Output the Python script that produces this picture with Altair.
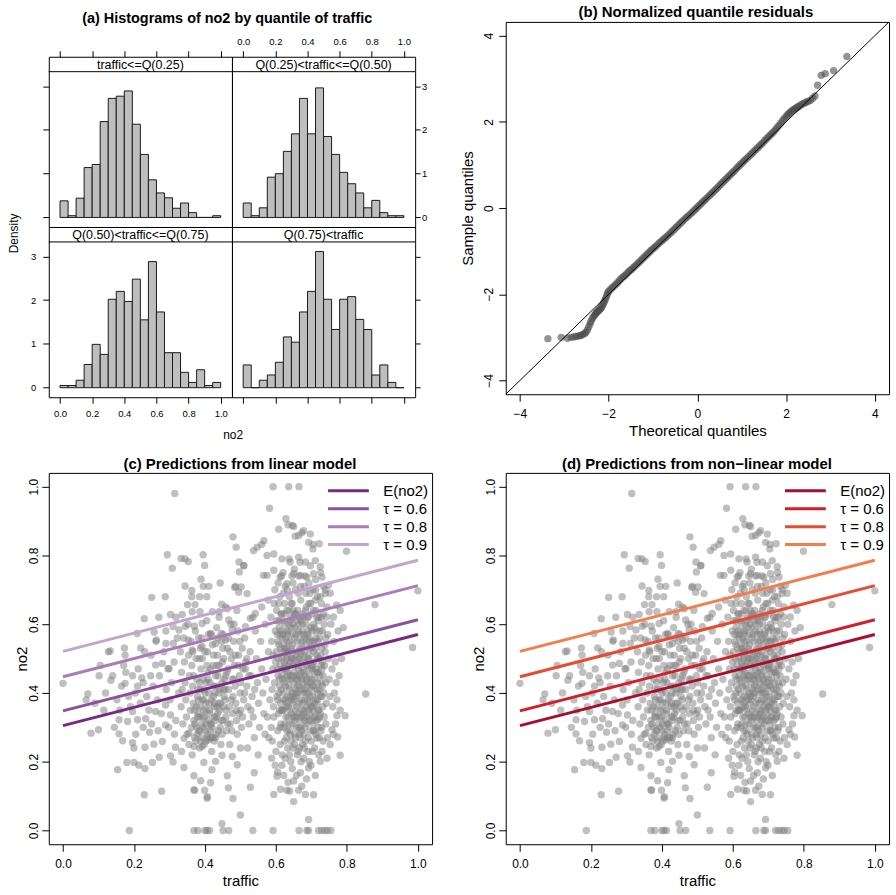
import altair as alt
import pandas as pd

FONT = "Liberation Sans"

# ------------------------------------------------------------------ data
# (a) histograms of no2 by quantile of traffic (densities per 0.05 bin)
bin_lo = [0.00, 0.05, 0.10, 0.15, 0.20, 0.25, 0.30, 0.35, 0.40, 0.45,
          0.50, 0.55, 0.60, 0.65, 0.70, 0.75, 0.80, 0.85, 0.90, 0.95]
bin_hi = [0.05, 0.10, 0.15, 0.20, 0.25, 0.30, 0.35, 0.40, 0.45, 0.50,
          0.55, 0.60, 0.65, 0.70, 0.75, 0.80, 0.85, 0.90, 0.95, 1.00]
strip_labels = ["traffic<=Q(0.25)", "Q(0.25)<traffic<=Q(0.50)",
                "Q(0.50)<traffic<=Q(0.75)", "Q(0.75)<traffic"]
density_q1 = [0.38, 0.04, 0.44, 1.14, 1.21, 2.19, 2.72, 2.77, 2.89, 2.13,
              1.44, 0.86, 0.56, 0.45, 0.21, 0.33, 0.11, 0.00, 0.00, 0.04]
density_q2 = [0.33, 0.04, 0.22, 0.92, 1.00, 1.51, 1.91, 2.72, 1.91, 2.96,
              1.85, 1.44, 1.03, 0.77, 0.56, 0.22, 0.39, 0.11, 0.04, 0.04]
density_q3 = [0.05, 0.05, 0.17, 0.53, 0.99, 0.76, 2.02, 2.20, 1.97, 2.48,
              1.55, 2.88, 1.73, 0.80, 0.80, 0.35, 0.12, 0.41, 0.05, 0.12]
density_q4 = [0.52, 0.00, 0.17, 0.29, 0.58, 1.16, 1.04, 1.73, 2.20, 3.11,
              2.02, 1.33, 2.02, 2.08, 1.56, 1.33, 0.29, 0.52, 0.12, 0.00]
hist_ticks_x = [0.0, 0.2, 0.4, 0.6, 0.8, 1.0]
hist_ticks_y = [0, 1, 2, 3]

# (b) normalized quantile residuals: (theoretical, sample)
qq_lower_tail = [(-3.37, -3.03), (-3.07, -3.00), (-2.93, -3.02), (-2.85, -3.00), (-2.79, -2.99),
                 (-2.74, -2.98), (-2.69, -2.97), (-2.65, -2.96), (-2.61, -2.95), (-2.58, -2.93),
                 (-2.54, -2.91), (-2.51, -2.88), (-2.48, -2.83), (-2.45, -2.76), (-2.42, -2.69),
                 (-2.40, -2.63), (-2.37, -2.57), (-2.35, -2.53), (-2.32, -2.49), (-2.30, -2.46),
                 (-2.28, -2.43), (-2.26, -2.41), (-2.24, -2.39), (-2.22, -2.37), (-2.20, -2.35),
                 (-2.18, -2.33), (-2.16, -2.30), (-2.14, -2.26), (-2.12, -2.22), (-2.10, -2.18),
                 (-2.08, -2.13), (-2.06, -2.08), (-2.04, -2.02), (-2.02, -1.97), (-2.00, -1.93)]
qq_body = [(-1.96, -1.89), (-1.92, -1.85), (-1.88, -1.81), (-1.84, -1.77), (-1.80, -1.73),
           (-1.76, -1.68), (-1.72, -1.64), (-1.68, -1.60), (-1.64, -1.57), (-1.60, -1.53),
           (-1.56, -1.49), (-1.52, -1.45), (-1.48, -1.42), (-1.44, -1.38), (-1.40, -1.34),
           (-1.36, -1.30), (-1.32, -1.26), (-1.28, -1.22), (-1.24, -1.18), (-1.20, -1.14),
           (-1.16, -1.10), (-1.12, -1.06), (-1.08, -1.02), (-1.04, -0.98), (-1.00, -0.94),
           (-0.96, -0.91), (-0.92, -0.87), (-0.88, -0.83), (-0.84, -0.79), (-0.80, -0.76),
           (-0.76, -0.72), (-0.72, -0.69), (-0.68, -0.65), (-0.64, -0.61), (-0.60, -0.57),
           (-0.56, -0.53), (-0.52, -0.49), (-0.48, -0.45), (-0.44, -0.41), (-0.40, -0.37),
           (-0.36, -0.33), (-0.32, -0.29), (-0.28, -0.25), (-0.24, -0.21), (-0.20, -0.18),
           (-0.16, -0.14), (-0.12, -0.10), (-0.08, -0.06), (-0.04, -0.02), (0.00, 0.02),
           (0.04, 0.06), (0.08, 0.10), (0.12, 0.14), (0.16, 0.18), (0.20, 0.22),
           (0.24, 0.26), (0.28, 0.30), (0.32, 0.34), (0.36, 0.38), (0.40, 0.42),
           (0.44, 0.46), (0.48, 0.50), (0.52, 0.55), (0.56, 0.59), (0.60, 0.63),
           (0.64, 0.67), (0.68, 0.71), (0.72, 0.75), (0.76, 0.79), (0.80, 0.83),
           (0.84, 0.87), (0.88, 0.92), (0.92, 0.96), (0.96, 1.00), (1.00, 1.04),
           (1.04, 1.08), (1.08, 1.12), (1.12, 1.16), (1.16, 1.20), (1.20, 1.24),
           (1.24, 1.28), (1.28, 1.32), (1.32, 1.36), (1.36, 1.40), (1.40, 1.44),
           (1.44, 1.48), (1.48, 1.52), (1.52, 1.57), (1.56, 1.61), (1.60, 1.65),
           (1.64, 1.69), (1.68, 1.73), (1.72, 1.77), (1.76, 1.82), (1.80, 1.87),
           (1.84, 1.92), (1.88, 1.97), (1.92, 2.03), (1.96, 2.08)]
qq_upper_tail = [(2.00, 2.12), (2.03, 2.16), (2.06, 2.19), (2.09, 2.22), (2.12, 2.25),
                 (2.15, 2.27), (2.18, 2.29), (2.21, 2.31), (2.24, 2.33), (2.27, 2.35),
                 (2.30, 2.37), (2.34, 2.40), (2.38, 2.42), (2.42, 2.44), (2.46, 2.46),
                 (2.50, 2.48), (2.55, 2.50), (2.60, 2.55), (2.65, 2.60), (2.71, 2.85),
                 (2.79, 3.08), (2.88, 3.12), (3.07, 3.19), (3.37, 3.52)]
qq_ref_line = [-4.32, 4.32]

# (c), (d) scatter of no2 against traffic: (traffic, no2)
pts_top = [(0.592, 1.0), (0.636, 1.0), (0.665, 1.0), (0.315, 0.98), (0.582, 0.937), (0.628, 0.907),
           (0.608, 0.876), (0.634, 0.889), (0.646, 0.887), (0.654, 0.856), (0.673, 0.866),
           (0.697, 0.862), (0.479, 0.854), (0.488, 0.824), (0.566, 0.843), (0.56, 0.832),
           (0.547, 0.824), (0.537, 0.814), (0.705, 0.832), (0.722, 0.834), (0.692, 0.838),
           (0.704, 0.819), (0.799, 0.812), (0.294, 0.802), (0.333, 0.791), (0.344, 0.79),
           (0.353, 0.782), (0.395, 0.802), (0.308, 0.763), (0.399, 0.771), (0.496, 0.781),
           (0.51, 0.771), (0.575, 0.8), (0.594, 0.804), (0.617, 0.79), (0.64, 0.781),
           (0.664, 0.795), (0.683, 0.781), (0.711, 0.785), (0.725, 0.767), (0.509, 0.77),
           (0.497, 0.752), (0.664, 0.858), (0.678, 0.872), (0.65, 0.884)]
pts_upper = [(0.565, 0.742), (0.575, 0.742), (0.594, 0.757), (0.612, 0.737), (0.631, 0.718),
             (0.65, 0.747), (0.669, 0.742), (0.687, 0.737), (0.706, 0.747), (0.73, 0.737),
             (0.748, 0.713), (0.739, 0.689), (0.389, 0.731), (0.344, 0.711), (0.363, 0.698),
             (0.395, 0.71), (0.411, 0.71), (0.443, 0.72), (0.486, 0.71), (0.25, 0.678),
             (0.288, 0.68), (0.363, 0.68), (0.385, 0.68), (0.405, 0.68), (0.351, 0.657),
             (0.372, 0.657), (0.447, 0.658), (0.484, 0.707), (0.495, 0.693), (0.519, 0.689),
             (0.502, 0.708), (0.879, 0.657), (1.0, 0.697), (0.771, 0.655), (0.781, 0.64),
             (0.762, 0.621), (0.743, 0.621), (0.229, 0.616), (0.303, 0.628), (0.336, 0.628),
             (0.364, 0.636), (0.386, 0.636), (0.421, 0.636), (0.44, 0.636), (0.463, 0.645),
             (0.467, 0.612), (0.542, 0.631), (0.528, 0.617)]
pts_middle = [(0.209, 0.573), (0.257, 0.577), (0.263, 0.554), (0.31, 0.593), (0.327, 0.583),
              (0.345, 0.594), (0.37, 0.594), (0.392, 0.602), (0.416, 0.573), (0.446, 0.573),
              (0.477, 0.583), (0.514, 0.593), (0.133, 0.522), (0.173, 0.531), (0.219, 0.531),
              (0.29, 0.544), (0.311, 0.544), (0.353, 0.554), (0.364, 0.525), (0.392, 0.535),
              (0.43, 0.544), (0.458, 0.554), (0.985, 0.532), (0.175, 0.51), (0.0, 0.428),
              (0.07, 0.397), (0.065, 0.38), (0.102, 0.45), (0.135, 0.437), (0.177, 0.46),
              (0.175, 0.428), (0.196, 0.45), (0.21, 0.42), (0.222, 0.444), (0.247, 0.45),
              (0.261, 0.481), (0.28, 0.486), (0.299, 0.471), (0.853, 0.397)]
pts_lower = [(0.079, 0.283), (0.1, 0.293), (0.158, 0.322), (0.182, 0.317), (0.196, 0.346),
             (0.21, 0.322), (0.233, 0.325), (0.244, 0.286), (0.261, 0.346), (0.289, 0.365),
             (0.303, 0.336), (0.289, 0.307), (0.158, 0.281), (0.168, 0.261), (0.196, 0.255),
             (0.2, 0.24), (0.231, 0.242), (0.256, 0.251), (0.28, 0.259), (0.317, 0.242),
             (0.334, 0.23), (0.341, 0.268), (0.355, 0.283), (0.369, 0.244), (0.392, 0.244),
             (0.411, 0.264), (0.772, 0.334), (0.795, 0.334), (0.758, 0.293), (0.774, 0.272),
             (0.753, 0.25), (0.72, 0.324), (0.716, 0.269), (0.73, 0.23), (0.303, 0.217),
             (0.18, 0.198), (0.2, 0.198), (0.214, 0.19), (0.231, 0.18), (0.252, 0.198),
             (0.271, 0.213), (0.31, 0.199), (0.341, 0.183), (0.154, 0.177), (0.229, 0.104),
             (0.278, 0.114), (0.369, 0.159), (0.388, 0.145), (0.416, 0.139), (0.369, 0.118),
             (0.407, 0.098), (0.397, 0.198), (0.42, 0.177), (0.43, 0.201), (0.448, 0.219),
             (0.463, 0.159), (0.466, 0.124), (0.477, 0.215), (0.491, 0.191), (0.448, 0.02),
             (0.781, 0.219), (0.725, 0.201), (0.692, 0.182), (0.669, 0.168), (0.65, 0.144),
             (0.673, 0.129), (0.683, 0.105), (0.65, 0.084), (0.639, 0.115), (0.594, 0.105),
             (0.528, 0.126), (0.539, 0.168), (0.603, 0.158), (0.617, 0.19), (0.626, 0.21),
             (0.692, 0.032), (0.5, 0.045), (0.406, 0.094), (0.479, 0.093), (0.706, 0.104),
             (0.371, 0.117), (0.399, 0.117), (0.631, 0.117), (0.664, 0.117)]
pts_zero = [(0.187, 0.0), (0.369, 0.0), (0.38, 0.0), (0.4, 0.0), (0.406, 0.0), (0.413, 0.0),
            (0.451, 0.0), (0.467, 0.0), (0.535, 0.0), (0.592, 0.0), (0.665, 0.0), (0.687, 0.0),
            (0.692, 0.0), (0.72, 0.0), (0.729, 0.0), (0.738, 0.0), (0.745, 0.0), (0.755, 0.0)]
pts_right_cluster = [
    (0.586, 0.62), (0.588, 0.55), (0.591, 0.47), (0.589, 0.41), (0.593, 0.36), (0.587, 0.30),
    (0.595, 0.66), (0.592, 0.51), (0.598, 0.58), (0.596, 0.43), (0.590, 0.26), (0.597, 0.70),
    (0.594, 0.33), (0.599, 0.49), (0.602, 0.64), (0.604, 0.57), (0.601, 0.52), (0.606, 0.45),
    (0.603, 0.39), (0.607, 0.34), (0.605, 0.29), (0.609, 0.61), (0.611, 0.68), (0.608, 0.54),
    (0.612, 0.48), (0.610, 0.42), (0.613, 0.37), (0.614, 0.31), (0.600, 0.23), (0.612, 0.25),
    (0.606, 0.72), (0.609, 0.59), (0.616, 0.63), (0.618, 0.56), (0.617, 0.50), (0.619, 0.44),
    (0.621, 0.40), (0.620, 0.35), (0.622, 0.30), (0.624, 0.66), (0.626, 0.60), (0.625, 0.53),
    (0.623, 0.47), (0.627, 0.38), (0.628, 0.33), (0.629, 0.27), (0.618, 0.22), (0.626, 0.71),
    (0.620, 0.75), (0.629, 0.58), (0.616, 0.41), (0.624, 0.49), (0.631, 0.64), (0.633, 0.57),
    (0.632, 0.51), (0.634, 0.46), (0.636, 0.42), (0.635, 0.36), (0.637, 0.31), (0.638, 0.68),
    (0.640, 0.61), (0.639, 0.55), (0.641, 0.49), (0.642, 0.44), (0.643, 0.38), (0.644, 0.34),
    (0.640, 0.28), (0.633, 0.24), (0.645, 0.74), (0.637, 0.79), (0.642, 0.20), (0.631, 0.53),
    (0.644, 0.59), (0.636, 0.48), (0.646, 0.66), (0.648, 0.60), (0.647, 0.54), (0.649, 0.48),
    (0.651, 0.43), (0.650, 0.39), (0.652, 0.33), (0.653, 0.28), (0.655, 0.70), (0.654, 0.63),
    (0.656, 0.57), (0.657, 0.51), (0.658, 0.45), (0.659, 0.36), (0.657, 0.30), (0.648, 0.24),
    (0.660, 0.22), (0.652, 0.76), (0.655, 0.41), (0.647, 0.37), (0.659, 0.55), (0.661, 0.64),
    (0.663, 0.58), (0.662, 0.52), (0.664, 0.47), (0.666, 0.42), (0.665, 0.37), (0.667, 0.32),
    (0.668, 0.27), (0.669, 0.71), (0.670, 0.61), (0.671, 0.55), (0.672, 0.49), (0.673, 0.44),
    (0.674, 0.35), (0.672, 0.29), (0.663, 0.23), (0.675, 0.25), (0.668, 0.78), (0.662, 0.40),
    (0.670, 0.67), (0.674, 0.58), (0.676, 0.63), (0.678, 0.57), (0.677, 0.51), (0.679, 0.46),
    (0.681, 0.41), (0.680, 0.35), (0.682, 0.30), (0.683, 0.26), (0.684, 0.69), (0.685, 0.60),
    (0.686, 0.54), (0.687, 0.48), (0.688, 0.43), (0.689, 0.38), (0.687, 0.33), (0.678, 0.21),
    (0.690, 0.23), (0.682, 0.74), (0.686, 0.65), (0.677, 0.40), (0.691, 0.62), (0.693, 0.56),
    (0.692, 0.50), (0.694, 0.45), (0.696, 0.39), (0.695, 0.34), (0.697, 0.29), (0.698, 0.66),
    (0.699, 0.59), (0.700, 0.53), (0.701, 0.47), (0.702, 0.42), (0.703, 0.36), (0.704, 0.31),
    (0.700, 0.26), (0.693, 0.72), (0.705, 0.70), (0.697, 0.77), (0.703, 0.23), (0.706, 0.60),
    (0.708, 0.55), (0.707, 0.49), (0.709, 0.44), (0.711, 0.38), (0.710, 0.33), (0.712, 0.28),
    (0.713, 0.64), (0.714, 0.58), (0.715, 0.51), (0.716, 0.46), (0.717, 0.40), (0.718, 0.35),
    (0.719, 0.30), (0.712, 0.73), (0.717, 0.68), (0.709, 0.24), (0.721, 0.62), (0.723, 0.56),
    (0.722, 0.50), (0.724, 0.45), (0.726, 0.39), (0.725, 0.34), (0.727, 0.29), (0.728, 0.66),
    (0.729, 0.53), (0.730, 0.47), (0.731, 0.42), (0.732, 0.36), (0.733, 0.26), (0.734, 0.71),
    (0.726, 0.75), (0.736, 0.60), (0.738, 0.54), (0.737, 0.48), (0.740, 0.43), (0.742, 0.37),
    (0.741, 0.31), (0.744, 0.65), (0.746, 0.57), (0.748, 0.50), (0.750, 0.44), (0.752, 0.39),
    (0.745, 0.27), (0.755, 0.60), (0.758, 0.47), (0.760, 0.36), (0.739, 0.70), (0.753, 0.69),
    (0.763, 0.55), (0.767, 0.49), (0.770, 0.43), (0.765, 0.40), (0.775, 0.58), (0.778, 0.45),
    (0.785, 0.50), (0.790, 0.59), (0.772, 0.38), (0.781, 0.35), (0.768, 0.31), (0.762, 0.28),
    (0.598, 0.19), (0.605, 0.17), (0.622, 0.16), (0.634, 0.14), (0.646, 0.18), (0.658, 0.16),
    (0.671, 0.20), (0.686, 0.15), (0.699, 0.19), (0.711, 0.16), (0.721, 0.22), (0.744, 0.21),
    (0.588, 0.21), (0.613, 0.12), (0.580, 0.27), (0.576, 0.33), (0.572, 0.44), (0.579, 0.52),
    (0.583, 0.38), (0.570, 0.60), (0.578, 0.67), (0.619, 0.47), (0.627, 0.42), (0.633, 0.39),
    (0.639, 0.35), (0.645, 0.31), (0.651, 0.46), (0.657, 0.40), (0.663, 0.34), (0.669, 0.30),
    (0.675, 0.43), (0.681, 0.38), (0.687, 0.36), (0.693, 0.32), (0.699, 0.41), (0.705, 0.35),
    (0.623, 0.54), (0.629, 0.50), (0.635, 0.58), (0.641, 0.62), (0.647, 0.52), (0.653, 0.56),
    (0.659, 0.61), (0.665, 0.50), (0.671, 0.46), (0.677, 0.55), (0.683, 0.49), (0.689, 0.57),
    (0.695, 0.53), (0.701, 0.63), (0.707, 0.52), (0.713, 0.47), (0.719, 0.55), (0.631, 0.29),
    (0.643, 0.26), (0.655, 0.27), (0.667, 0.28), (0.679, 0.28), (0.691, 0.27), (0.703, 0.39),
    (0.715, 0.32)]
pts_right_core = [
    (0.603, 0.61), (0.607, 0.50), (0.611, 0.44), (0.615, 0.58), (0.619, 0.35), (0.623, 0.63),
    (0.627, 0.56), (0.631, 0.45), (0.635, 0.52), (0.639, 0.41), (0.643, 0.66), (0.647, 0.45),
    (0.651, 0.62), (0.655, 0.35), (0.659, 0.48), (0.663, 0.69), (0.667, 0.53), (0.671, 0.38),
    (0.675, 0.60), (0.679, 0.33), (0.683, 0.64), (0.687, 0.42), (0.691, 0.58), (0.695, 0.47),
    (0.699, 0.36), (0.703, 0.55), (0.707, 0.42), (0.711, 0.67), (0.715, 0.37), (0.719, 0.61),
    (0.723, 0.33), (0.727, 0.48), (0.731, 0.58), (0.735, 0.40), (0.739, 0.52), (0.605, 0.38),
    (0.613, 0.53), (0.621, 0.69), (0.629, 0.36), (0.637, 0.64), (0.645, 0.50), (0.653, 0.32),
    (0.661, 0.44), (0.669, 0.62), (0.677, 0.47), (0.685, 0.31), (0.693, 0.66), (0.701, 0.44),
    (0.709, 0.59), (0.717, 0.43), (0.725, 0.68), (0.733, 0.45), (0.741, 0.56), (0.612, 0.30),
    (0.624, 0.26), (0.638, 0.22), (0.652, 0.25), (0.666, 0.24), (0.680, 0.24), (0.694, 0.20),
    (0.708, 0.29), (0.722, 0.27), (0.736, 0.33), (0.616, 0.74), (0.632, 0.70), (0.648, 0.72),
    (0.664, 0.74), (0.680, 0.71), (0.696, 0.69), (0.712, 0.70), (0.728, 0.62), (0.608, 0.66),
    (0.620, 0.52), (0.634, 0.33), (0.646, 0.57), (0.658, 0.39), (0.670, 0.51), (0.682, 0.45),
    (0.694, 0.37), (0.706, 0.64), (0.718, 0.50), (0.730, 0.39)]
pts_right_core2 = [
    (0.604, 0.47), (0.608, 0.40), (0.612, 0.57), (0.616, 0.35), (0.620, 0.61), (0.624, 0.43),
    (0.628, 0.52), (0.632, 0.37), (0.636, 0.60), (0.640, 0.45), (0.644, 0.53), (0.648, 0.33),
    (0.652, 0.50), (0.656, 0.63), (0.660, 0.42), (0.664, 0.30), (0.668, 0.57), (0.672, 0.41),
    (0.676, 0.34), (0.680, 0.52), (0.684, 0.40), (0.688, 0.62), (0.692, 0.35), (0.696, 0.55),
    (0.700, 0.32), (0.704, 0.48), (0.708, 0.37), (0.712, 0.53), (0.716, 0.41), (0.720, 0.46),
    (0.724, 0.58), (0.728, 0.43), (0.606, 0.55), (0.614, 0.63), (0.622, 0.38), (0.630, 0.47),
    (0.638, 0.29), (0.646, 0.40), (0.654, 0.59), (0.662, 0.49), (0.670, 0.33), (0.678, 0.62),
    (0.686, 0.44), (0.694, 0.51), (0.702, 0.58), (0.710, 0.46), (0.718, 0.38), (0.726, 0.51),
    (0.734, 0.63), (0.617, 0.45), (0.625, 0.31), (0.633, 0.55), (0.641, 0.39), (0.649, 0.64),
    (0.657, 0.44), (0.665, 0.60), (0.673, 0.53), (0.681, 0.32), (0.689, 0.50), (0.697, 0.43),
    (0.705, 0.29), (0.713, 0.56), (0.721, 0.35), (0.729, 0.30), (0.611, 0.35), (0.619, 0.57),
    (0.627, 0.48), (0.635, 0.44), (0.643, 0.50), (0.651, 0.38), (0.659, 0.33), (0.667, 0.45),
    (0.675, 0.37), (0.683, 0.56), (0.691, 0.40), (0.699, 0.48), (0.707, 0.33), (0.715, 0.62),
    (0.723, 0.41), (0.731, 0.49)]
pts_mid_cluster = [
    (0.331, 0.52), (0.334, 0.46), (0.336, 0.41), (0.333, 0.36), (0.338, 0.31), (0.340, 0.56),
    (0.342, 0.49), (0.344, 0.43), (0.346, 0.38), (0.348, 0.33), (0.350, 0.28), (0.352, 0.60),
    (0.354, 0.51), (0.356, 0.45), (0.358, 0.40), (0.359, 0.35), (0.355, 0.25), (0.361, 0.55),
    (0.363, 0.48), (0.365, 0.42), (0.367, 0.37), (0.369, 0.32), (0.371, 0.27), (0.373, 0.58),
    (0.375, 0.50), (0.377, 0.44), (0.379, 0.39), (0.381, 0.34), (0.383, 0.29), (0.385, 0.24),
    (0.387, 0.53), (0.389, 0.47), (0.388, 0.41), (0.386, 0.36), (0.364, 0.22), (0.391, 0.56),
    (0.393, 0.50), (0.395, 0.44), (0.397, 0.38), (0.399, 0.33), (0.401, 0.29), (0.403, 0.26),
    (0.405, 0.61), (0.407, 0.52), (0.409, 0.46), (0.411, 0.40), (0.413, 0.35), (0.415, 0.31),
    (0.417, 0.27), (0.419, 0.23), (0.410, 0.57), (0.402, 0.37), (0.396, 0.30), (0.414, 0.43),
    (0.421, 0.54), (0.423, 0.48), (0.425, 0.42), (0.427, 0.37), (0.429, 0.32), (0.431, 0.28),
    (0.433, 0.59), (0.435, 0.51), (0.437, 0.45), (0.439, 0.40), (0.441, 0.35), (0.443, 0.30),
    (0.445, 0.25), (0.447, 0.55), (0.449, 0.49), (0.448, 0.43), (0.426, 0.26), (0.440, 0.62),
    (0.451, 0.57), (0.453, 0.50), (0.455, 0.44), (0.457, 0.38), (0.459, 0.33), (0.461, 0.29),
    (0.463, 0.53), (0.465, 0.47), (0.467, 0.41), (0.469, 0.36), (0.471, 0.31), (0.473, 0.60),
    (0.475, 0.50), (0.477, 0.44), (0.479, 0.39), (0.478, 0.34), (0.470, 0.25), (0.458, 0.65),
    (0.481, 0.55), (0.483, 0.48), (0.485, 0.42), (0.487, 0.37), (0.489, 0.32), (0.491, 0.28),
    (0.493, 0.58), (0.495, 0.51), (0.497, 0.45), (0.499, 0.40), (0.501, 0.35), (0.503, 0.30),
    (0.505, 0.53), (0.507, 0.47), (0.509, 0.38), (0.490, 0.64), (0.500, 0.24), (0.512, 0.56),
    (0.515, 0.49), (0.518, 0.42), (0.521, 0.36), (0.524, 0.31), (0.527, 0.52), (0.530, 0.45),
    (0.533, 0.39), (0.536, 0.33), (0.539, 0.27), (0.542, 0.58), (0.545, 0.50), (0.548, 0.43),
    (0.551, 0.37), (0.554, 0.30), (0.557, 0.55), (0.560, 0.47), (0.563, 0.40), (0.566, 0.34),
    (0.569, 0.28), (0.520, 0.24), (0.535, 0.62), (0.550, 0.22), (0.560, 0.65), (0.372, 0.31),
    (0.378, 0.28), (0.384, 0.33), (0.390, 0.27), (0.396, 0.35), (0.402, 0.31), (0.408, 0.28),
    (0.414, 0.34), (0.420, 0.30), (0.426, 0.36), (0.432, 0.33), (0.438, 0.29), (0.444, 0.37),
    (0.376, 0.36), (0.398, 0.41), (0.418, 0.38), (0.430, 0.45), (0.452, 0.41), (0.462, 0.46),
    (0.474, 0.38), (0.486, 0.51), (0.496, 0.34), (0.384, 0.50), (0.406, 0.48), (0.424, 0.51),
    (0.436, 0.56)]
pts_mid_core = [
    (0.362, 0.30), (0.368, 0.45), (0.374, 0.26), (0.380, 0.41), (0.386, 0.29), (0.392, 0.38),
    (0.398, 0.25), (0.404, 0.43), (0.410, 0.32), (0.416, 0.47), (0.422, 0.27), (0.428, 0.40),
    (0.434, 0.36), (0.440, 0.48), (0.446, 0.32), (0.452, 0.36), (0.458, 0.45), (0.464, 0.31),
    (0.470, 0.52), (0.476, 0.29), (0.482, 0.44), (0.488, 0.35), (0.494, 0.48), (0.500, 0.43),
    (0.506, 0.33), (0.512, 0.40), (0.518, 0.50), (0.524, 0.45), (0.530, 0.35), (0.540, 0.41),
    (0.366, 0.52), (0.382, 0.56), (0.400, 0.52), (0.418, 0.57), (0.434, 0.48), (0.450, 0.53),
    (0.466, 0.56), (0.482, 0.60), (0.498, 0.55), (0.514, 0.47), (0.370, 0.35), (0.376, 0.30),
    (0.382, 0.38), (0.388, 0.26), (0.394, 0.33), (0.400, 0.40), (0.406, 0.27), (0.412, 0.37),
    (0.418, 0.31), (0.424, 0.39), (0.430, 0.27), (0.436, 0.34), (0.442, 0.41), (0.448, 0.28),
    (0.454, 0.39), (0.460, 0.35), (0.379, 0.33), (0.391, 0.31), (0.403, 0.35), (0.415, 0.29),
    (0.427, 0.33), (0.439, 0.37), (0.451, 0.32), (0.385, 0.43), (0.409, 0.44), (0.433, 0.42),
    (0.457, 0.41)]
pts_left_fill = [
    (0.152, 0.38), (0.160, 0.35), (0.165, 0.42), (0.171, 0.48), (0.185, 0.39), (0.190, 0.36),
    (0.204, 0.40), (0.212, 0.47), (0.218, 0.37), (0.226, 0.43), (0.236, 0.39), (0.242, 0.35),
    (0.248, 0.51), (0.254, 0.42), (0.266, 0.38), (0.272, 0.45), (0.277, 0.34), (0.284, 0.52),
    (0.291, 0.41), (0.296, 0.47), (0.302, 0.38), (0.306, 0.43), (0.313, 0.49), (0.318, 0.32),
    (0.322, 0.56), (0.326, 0.40), (0.314, 0.28), (0.298, 0.30), (0.268, 0.29), (0.250, 0.31),
    (0.226, 0.30), (0.205, 0.28), (0.140, 0.45), (0.120, 0.40), (0.115, 0.35), (0.145, 0.30),
    (0.105, 0.48), (0.090, 0.37), (0.128, 0.52), (0.230, 0.52), (0.262, 0.55), (0.290, 0.58),
    (0.318, 0.62), (0.270, 0.62)]

# regression / quantile lines: value at traffic = 0 and traffic = 1
line_series = ["E(no2)", "τ = 0.6", "τ = 0.8", "τ = 0.9"]
line_traffic_ends = [0.0, 1.0]
line_at_start = [0.305, 0.348, 0.447, 0.521]
line_at_end = [0.570, 0.613, 0.712, 0.786]
colors_linear = ["#762a83", "#8e4f9f", "#a87cba", "#c2a4d0"]
colors_nonlinear = ["#a50f2d", "#d21e28", "#e84b32", "#f57d4b"]

panel_titles = ["(a) Histograms of no2 by quantile of traffic",
                "(b) Normalized quantile residuals",
                "(c) Predictions from linear model",
                "(d) Predictions from non\u2212linear model"]

# ------------------------------------------------------------------ helpers
CW, CH, SH = 184, 171, 15
SPACER_H = 35
NO_FRAME = alt.ViewBackground(strokeOpacity=0)
TOP = 19      # space above the first row of plots
LEFT_A = 48   # space left of panels (a) and (c)


def anchor(x1, y1, x2, y2):
    """invisible rule fixing how far a panel reaches around its plot area"""
    return alt.Chart(pd.DataFrame({"a": [0]})).mark_rule(
        opacity=0, strokeOpacity=0, strokeWidth=0).encode(
        x=alt.value(x1), x2=alt.value(x2), y=alt.value(y1), y2=alt.value(y2))


def text_layer(txt, x, y, size, weight="bold"):
    return alt.Chart(pd.DataFrame({"t": [txt]})).mark_text(
        font=FONT, fontSize=size, fontWeight=weight, align="center",
        baseline="alphabetic", color="black").encode(
        text="t:N", x=alt.value(x), y=alt.value(y))


def hist_cell(dens, label, xorient, xlabels, yorient, ylabels,
              xtitle=None, ytitle=None, extras=()):
    df = pd.DataFrame({"lo": bin_lo, "hi": bin_hi, "dens": dens, "base": 0.0})
    xkw = dict(orient=xorient, values=hist_ticks_x, format=".1f", labels=xlabels,
               tickSize=6, labelFontSize=9.5, labelBaseline="alphabetic",
               labelPadding=6 if xorient == "top" else 13.5)
    if xtitle:
        xkw.update(title=xtitle, titleX=184.7, titleY=41, titleAlign="center",
                   titleBaseline="alphabetic", titleFontSize=12)
    else:
        xkw["title"] = None
    left = yorient == "left"
    ykw = dict(orient=yorient, values=hist_ticks_y, format="d", labels=ylabels,
               tickSize=6 if left else 5, labelPadding=7 if left else 1.5,
               labelFontSize=9.5, labelBaseline="middle",
               labelAlign="right" if left else "left")
    if ytitle:
        ykw.update(title=ytitle, titleAngle=270, titleX=-31, titleY=6,
                   titleAlign="center", titleBaseline="alphabetic", titleFontSize=12)
    else:
        ykw["title"] = None
    bars = alt.Chart(df).mark_rect(fill="#bebebe", stroke="#1a1a1a", strokeWidth=1).encode(
        x=alt.X("lo:Q", scale=alt.Scale(domain=[-0.07, 1.07], nice=False, zero=False),
                axis=alt.Axis(**xkw)),
        x2="hi:Q",
        y=alt.Y("dens:Q", scale=alt.Scale(domain=[-0.218, 3.33], range=[CH, SH],
                                          nice=False, zero=False),
                axis=alt.Axis(**ykw)),
        y2="base:Q",
    )
    sdf = pd.DataFrame({"label": [label]})
    strip_line = alt.Chart(sdf).mark_rule(color="black", strokeWidth=1).encode(
        x=alt.value(0), x2=alt.value(CW), y=alt.value(SH))
    strip_text = alt.Chart(sdf).mark_text(font=FONT, fontSize=12.5, baseline="middle",
                                          align="center", color="black").encode(
        text="label:N", x=alt.value(CW / 2), y=alt.value(SH / 2 + 0.5))
    return alt.layer(bars, strip_line, strip_text, *extras).properties(width=CW, height=CH)


# ------------------------------------------------------------------ panel (a)
S1 = alt.layer(text_layer(panel_titles[0], 179.2, 0.7, 14.5),
               anchor(-LEFT_A, -TOP, 0, 0)).properties(width=CW, height=SPACER_H, view=NO_FRAME)
S2 = alt.layer(anchor(0, 0, 0, 0)).properties(width=CW, height=SPACER_H, view=NO_FRAME)
TL = hist_cell(density_q1, strip_labels[0], "top", False, "left", False)
TR = hist_cell(density_q2, strip_labels[1], "top", True, "right", True)
BL = hist_cell(density_q3, strip_labels[2], "bottom", True, "left", True,
               xtitle="no2", ytitle="Density")
BR = hist_cell(density_q4, strip_labels[3], "bottom", False, "right", False,
               extras=[anchor(0, 0, 216, 222)])
panel_a = alt.concat(S1, S2, TL, TR, BL, BR, columns=2, spacing=0, bounds="flush")

# ------------------------------------------------------------------ panel (b)
qq_pts = qq_lower_tail + qq_body + qq_upper_tail
qq_df = pd.DataFrame({"theo": [p[0] for p in qq_pts], "samp": [p[1] for p in qq_pts]})
ref_df = pd.DataFrame({"theo": qq_ref_line, "samp": qq_ref_line})
qscale = alt.Scale(domain=[-4.32, 4.32], nice=False, zero=False)
qq_xaxis = alt.Axis(values=[-4, -2, 0, 2, 4], format="d", tickSize=7, labelPadding=7,
                    labelBaseline="top", labelFontSize=12, title="Theoretical quantiles",
                    titleFontSize=15, titleY=41, titleBaseline="alphabetic")
qq_yaxis = alt.Axis(values=[-4, -2, 0, 2, 4], format="d", tickSize=7, labelPadding=6,
                    labelAngle=270, labelAlign="center", labelBaseline="alphabetic",
                    labelFontSize=12, title="Sample quantiles", titleFontSize=15,
                    titleAngle=270, titleX=-33, titleAlign="center",
                    titleBaseline="alphabetic")
qq_points = alt.Chart(qq_df).mark_circle(size=55, color="#4d4d4d", opacity=0.6).encode(
    x=alt.X("theo:Q", scale=qscale, axis=qq_xaxis),
    y=alt.Y("samp:Q", scale=qscale, axis=qq_yaxis))
qq_line = alt.Chart(ref_df).mark_line(color="black", strokeWidth=1, clip=True).encode(
    x="theo:Q", y="samp:Q")
panel_b = alt.layer(qq_points, qq_line, text_layer(panel_titles[1], 191, -4.5, 15),
                    anchor(-57, -TOP, 391, 428)).properties(width=385, height=374)

# ------------------------------------------------------------------ panels (c), (d)
all_pts = (pts_top + pts_upper + pts_middle + pts_lower + pts_zero + pts_right_cluster
           + pts_right_core + pts_right_core2 + pts_mid_cluster + pts_mid_core
           + pts_left_fill)
traffic = [p[0] for p in all_pts]
no2 = [p[1] for p in all_pts]
sc_df = pd.DataFrame({"traffic": traffic, "no2": no2})

ln_rows = []
for s, a, b in zip(line_series, line_at_start, line_at_end):
    ln_rows.append({"series": s, "traffic": line_traffic_ends[0], "no2": a})
    ln_rows.append({"series": s, "traffic": line_traffic_ends[1], "no2": b})
ln_df = pd.DataFrame(ln_rows)

sscale = alt.Scale(domain=[-0.04, 1.04], nice=False, zero=False)
tick01 = [0.0, 0.2, 0.4, 0.6, 0.8, 1.0]


def prediction_panel(title, colors, anchor_left):
    xaxis = alt.Axis(values=tick01, format=".1f", tickSize=7, labelPadding=7.5,
                     labelBaseline="top", labelFontSize=12, title="traffic",
                     titleFontSize=15, titleY=41, titleBaseline="alphabetic")
    yaxis = alt.Axis(values=tick01, format=".1f", tickSize=7, labelPadding=4,
                     labelAngle=270, labelAlign="center", labelBaseline="alphabetic",
                     labelFontSize=12, title="no2", titleFontSize=15, titleAngle=270,
                     titleX=-22, titleAlign="center", titleBaseline="alphabetic")
    pts = alt.Chart(sc_df).mark_circle(size=55, color="#7f7f7f", opacity=0.5).encode(
        x=alt.X("traffic:Q", scale=sscale, axis=xaxis),
        y=alt.Y("no2:Q", scale=sscale, axis=yaxis))
    legend = alt.Legend(orient="none", legendX=279, legendY=9, title=None,
                        symbolType="stroke", symbolSize=1681, symbolStrokeWidth=3,
                        labelFontSize=15, labelFont=FONT, labelColor="black",
                        labelOffset=13, clipHeight=18, rowPadding=0, padding=0)
    lines = alt.Chart(ln_df).mark_line(strokeWidth=3).encode(
        x=alt.X("traffic:Q", scale=sscale),
        y=alt.Y("no2:Q", scale=sscale),
        color=alt.Color("series:N", scale=alt.Scale(domain=line_series, range=colors),
                        sort=line_series, legend=legend),
        detail="series:N")
    return alt.layer(pts, lines, text_layer(title, 192, -4, 15),
                     anchor(-anchor_left, -23, 448 - anchor_left, 425)).properties(
        width=385, height=373)


panel_c = prediction_panel(panel_titles[2], colors_linear, LEFT_A)
panel_d = prediction_panel(panel_titles[3], colors_nonlinear, 57)

# ------------------------------------------------------------------ assemble
row1 = alt.hconcat(panel_a, panel_b, spacing=0)
row2 = alt.hconcat(panel_c, panel_d, spacing=0).resolve_scale(color="independent")
chart = (
    alt.vconcat(row1, row2, spacing=0)
    .resolve_scale(color="independent")
    .properties(padding=0)
    .configure(font=FONT)
    .configure_view(stroke="black", strokeWidth=1)
    .configure_axis(grid=False, domain=False, tickColor="black", tickWidth=1,
                    labelColor="black", titleColor="black", labelFont=FONT,
                    titleFont=FONT, titleFontWeight="normal")
)

chart.save("out.html", embed_options={"renderer": "svg", "actions": False})
